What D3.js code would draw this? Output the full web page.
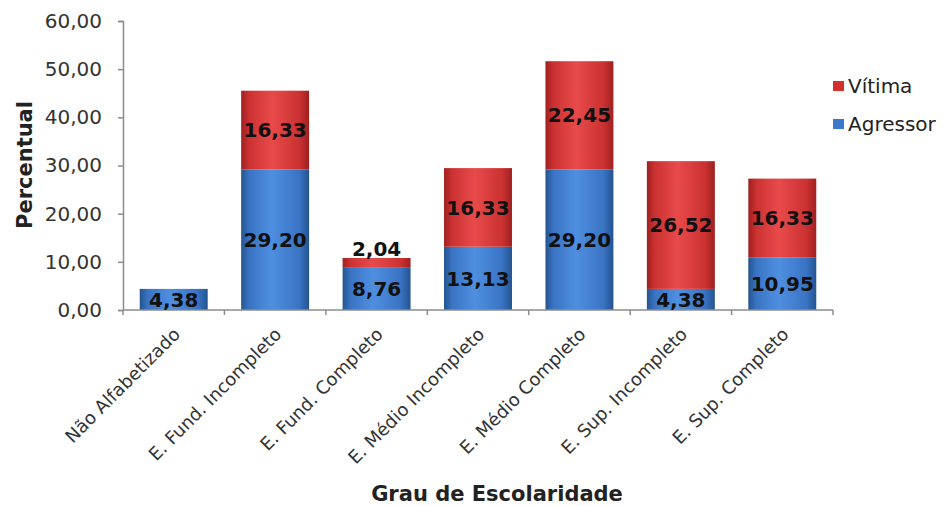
<!DOCTYPE html>
<html>
<head>
<meta charset="utf-8">
<script src="https://cdn.jsdelivr.net/npm/d3@7"></script>
<style>
  html, body { margin: 0; padding: 0; background: #ffffff; }
  svg { display: block; }
  text { font-family: "DejaVu Sans", Verdana, sans-serif; }
</style>
</head>
<body>
<svg id="chart" width="944" height="506"></svg>
<script>
// Escolaridade de agressores e vítimas (%)
const categories = [
  "Não Alfabetizado",
  "E. Fund. Incompleto",
  "E. Fund. Completo",
  "E. Médio Incompleto",
  "E. Médio Completo",
  "E. Sup. Incompleto",
  "E. Sup. Completo"
];
const agressor = [4.38, 29.20, 8.76, 13.13, 29.20, 4.38, 10.95];
const vitima   = [0, 16.33, 2.04, 16.33, 22.45, 26.52, 16.33];
const seriesNames = ["Agressor", "Vítima"];
const yTicks = [0, 10, 20, 30, 40, 50, 60];

const fmt = v => v.toFixed(2).replace(".", ",");

const svg = d3.select("#chart");
const margin = { left: 123, right: 111, top: 21, bottom: 196 };
const W = 944, H = 506;

const x = d3.scaleBand()
  .domain(categories)
  .range([margin.left, W - margin.right])
  .paddingInner(0.33)
  .paddingOuter(0.165);

const y = d3.scaleLinear()
  .domain([0, 60])
  .range([H - margin.bottom, margin.top]);

// cylinder-like horizontal shading for each series
const defs = svg.append("defs");
function shade(id, dark, mid, light) {
  const g = defs.append("linearGradient").attr("id", id)
    .attr("x1", "0%").attr("x2", "100%").attr("y1", "0%").attr("y2", "0%");
  g.append("stop").attr("offset", "0%").attr("stop-color", dark);
  g.append("stop").attr("offset", "12%").attr("stop-color", mid);
  g.append("stop").attr("offset", "45%").attr("stop-color", light);
  g.append("stop").attr("offset", "85%").attr("stop-color", mid);
  g.append("stop").attr("offset", "100%").attr("stop-color", dark);
}
shade("gAgr", "#24548f", "#3a74c4", "#4f8fe0");
shade("gVit", "#a02020", "#cc3232", "#e84a4a");

const color = { "Agressor": "url(#gAgr)", "Vítima": "url(#gVit)" };
const legendColor = { "Agressor": "#3b78cc", "Vítima": "#d42e2e" };

const rows = categories.map((c, i) => ({ cat: c, Agressor: agressor[i], "Vítima": vitima[i] }));
const stacked = d3.stack().keys(seriesNames)(rows);

// axes
const axisColor = "#8c8c8c";
const yAxis = svg.append("g")
  .attr("transform", `translate(${margin.left},0)`)
  .call(d3.axisLeft(y).tickValues(yTicks).tickFormat(fmt).tickSize(5).tickPadding(16));
yAxis.select(".domain").attr("stroke", axisColor).attr("stroke-width", 1.5);
yAxis.selectAll(".tick line").attr("stroke", axisColor).attr("stroke-width", 1.5);
yAxis.selectAll(".tick text").attr("font-size", 20).attr("fill", "#333");

// bars
const layers = svg.append("g").selectAll("g")
  .data(stacked).join("g")
  .attr("fill", d => color[d.key]);

layers.selectAll("rect")
  .data(d => d.map(p => ({ p, key: d.key })))
  .join("rect")
  .filter(d => d.p[1] - d.p[0] > 0)
  .attr("x", d => x(d.p.data.cat))
  .attr("width", x.bandwidth())
  .attr("y", d => y(d.p[1]))
  .attr("height", d => y(d.p[0]) - y(d.p[1]));

// x axis line with ticks at category boundaries
const x0 = margin.left, x1 = W - margin.right, yBase = y(0);
svg.append("line").attr("x1", x0).attr("x2", x1).attr("y1", yBase).attr("y2", yBase)
  .attr("stroke", axisColor).attr("stroke-width", 1.5);
const bounds = d3.range(categories.length + 1).map(i => x0 + i * (x1 - x0) / categories.length);
svg.append("g").selectAll("line").data(bounds).join("line")
  .attr("x1", d => d).attr("x2", d => d)
  .attr("y1", yBase).attr("y2", yBase + 5)
  .attr("stroke", axisColor).attr("stroke-width", 1.5);

// value labels
const labels = [];
stacked.forEach(layer => layer.forEach(p => {
  const v = p[1] - p[0];
  if (v <= 0) return;
  const h = y(p[0]) - y(p[1]);
  labels.push({ v, cx: x(p.data.cat) + x.bandwidth() / 2, top: y(p[1]), mid: (y(p[0]) + y(p[1])) / 2, small: h < 22 && layer.key === "Vítima" });
}));
svg.append("g").selectAll("text").data(labels).join("text")
  .attr("x", d => d.cx)
  .attr("y", d => d.small ? d.top - 2 : d.mid)
  .attr("dy", d => d.small ? "0" : "0.36em")
  .attr("text-anchor", "middle")
  .attr("font-size", 20)
  .attr("font-weight", "bold")
  .attr("fill", "#111")
  .text(d => fmt(d.v));

// category labels, rotated
svg.append("g").selectAll("text").data(categories).join("text")
  .attr("transform", d => `translate(${x(d) + x.bandwidth() / 2 + 3},${yBase + 21}) rotate(-45)`)
  .attr("text-anchor", "end")
  .attr("dy", "0.35em")
  .attr("font-size", 18)
  .attr("fill", "#333")
  .text(d => d);

// axis titles
svg.append("text")
  .attr("transform", `translate(32,165) rotate(-90)`)
  .attr("text-anchor", "middle")
  .attr("font-size", 21)
  .attr("font-weight", "bold")
  .attr("fill", "#222")
  .text("Percentual");

svg.append("text")
  .attr("x", 497).attr("y", 501)
  .attr("text-anchor", "middle")
  .attr("font-size", 21)
  .attr("font-weight", "bold")
  .attr("fill", "#222")
  .text("Grau de Escolaridade");

// legend (Vítima on top, as stacked)
const legendItems = ["Vítima", "Agressor"];
const lg = svg.append("g").selectAll("g").data(legendItems).join("g")
  .attr("transform", (d, i) => `translate(833,${86 + i * 38})`);
lg.append("rect").attr("x", 0).attr("y", -5).attr("width", 11).attr("height", 10)
  .attr("fill", d => legendColor[d]);
lg.append("text").attr("x", 15).attr("y", 0).attr("dy", "0.36em")
  .attr("font-size", 20).attr("fill", "#222").text(d => d);
</script>
</body>
</html>
